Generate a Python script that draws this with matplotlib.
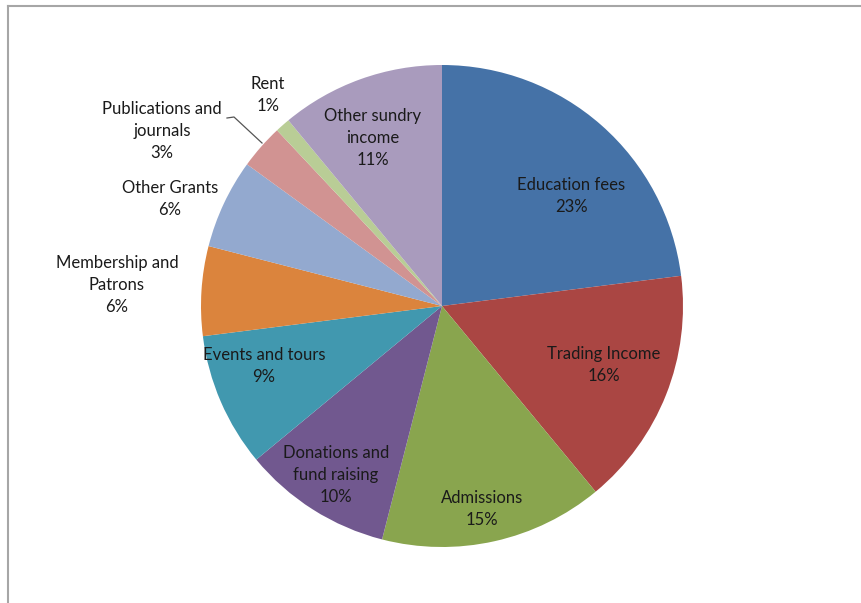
import matplotlib.pyplot as plt
from matplotlib.lines import Line2D

labels = ["Education fees", "Trading Income", "Admissions", "Donations and\nfund raising",
          "Events and tours", "Membership and\nPatrons", "Other Grants",
          "Publications and\njournals", "Rent", "Other sundry\nincome"]
shares = [23, 16, 15, 10, 9, 6, 6, 3, 1, 11]
colors = ["#4572A7", "#AA4643", "#89A54E", "#71588F", "#4198AF",
          "#DB843D", "#93A9CF", "#D19392", "#B9CD96", "#A99BBD"]

# label centres in pixels (x, y from top)
label_px = [(571, 196), (604, 365), (482, 509), (336, 475), (264, 366),
            (117, 285), (170, 199), (162, 131), (268, 95), (373, 138)]

W, H = 862, 603
cx, cy, R = 442, 306, 241

plt.rcParams['font.family'] = ['Lato', 'DejaVu Sans']
fig = plt.figure(figsize=(W / 100, H / 100), dpi=100)
ax = fig.add_axes([0, 0, 1, 1])
ax.pie(shares, colors=colors, startangle=90, counterclock=False, radius=1,
       wedgeprops=dict(linewidth=0))

def to_data(px, py):
    return (px - cx) / R, (cy - py) / R

for lab, val, (px, py) in zip(labels, shares, label_px):
    x, y = to_data(px, py)
    ax.text(x, y, f"{lab}\n{val}%", ha="center", va="center", fontsize=12,
            color="#1a1a1a", linespacing=1.45)

# leader line for Publications
lx, ly = zip(*[to_data(227, 118), to_data(234, 117), to_data(262, 143)])
ax.plot(lx, ly, color="#555555", lw=0.9)

ax.set_aspect('auto')
ax.set_xlim(-cx / R, (W - cx) / R)
ax.set_ylim(-(H - cy) / R, cy / R)
ax.axis('off')

# chart area border (left and top)
fig.add_artist(Line2D([8.5 / W, 8.5 / W], [0, 1 - 6 / H], transform=fig.transFigure,
                      color="#A6A6A6", lw=1.5))
fig.add_artist(Line2D([8.5 / W, 1], [1 - 6 / H, 1 - 6 / H], transform=fig.transFigure,
                      color="#A6A6A6", lw=1.5))

fig.savefig("out.png", dpi=100)
